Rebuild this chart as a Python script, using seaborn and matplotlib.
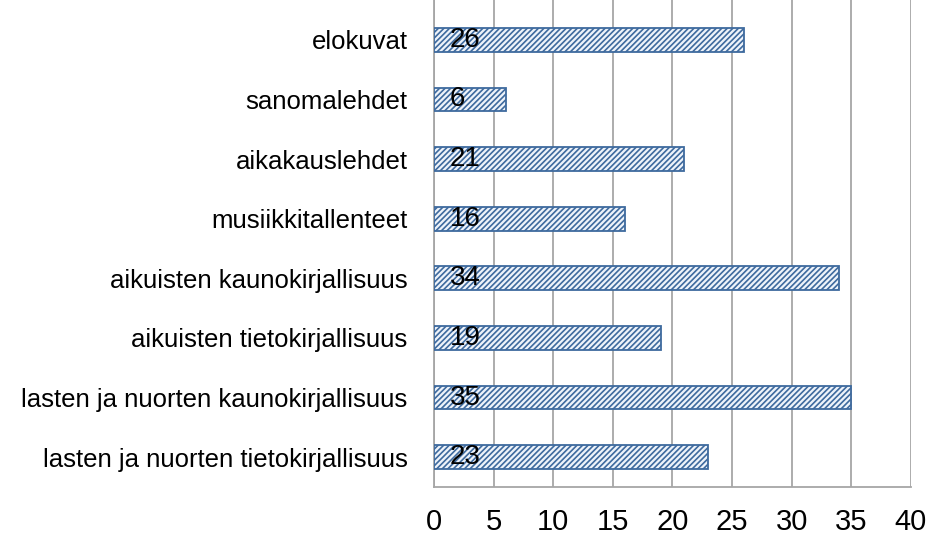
import matplotlib
matplotlib.use("Agg")
import matplotlib.pyplot as plt
import seaborn as sns
import pandas as pd
from matplotlib import font_manager

categories = [
    "elokuvat",
    "sanomalehdet",
    "aikakauslehdet",
    "musiikkitallenteet",
    "aikuisten kaunokirjallisuus",
    "aikuisten tietokirjallisuus",
    "lasten ja nuorten kaunokirjallisuus",
    "lasten ja nuorten tietokirjallisuus",
]
values = [26, 6, 21, 16, 34, 19, 35, 23]

df = pd.DataFrame({"category": categories, "value": values})

sns.set_style("white")
names = {f.name for f in font_manager.fontManager.ttflist}
fam = "Liberation Sans Narrow" if "Liberation Sans Narrow" in names else "Liberation Sans"
plt.rcParams["font.family"] = [fam, "DejaVu Sans"]
plt.rcParams["hatch.linewidth"] = 1.2
plt.rcParams["text.color"] = "black"
plt.rcParams["xtick.labelcolor"] = "black"
plt.rcParams["ytick.labelcolor"] = "black"

fig = plt.figure(figsize=(9.28, 5.38), dpi=100)
# axes run from the very top of the image down to the x axis line
ax = fig.add_axes([434 / 928, 1 - 487 / 538, 477 / 928, 487 / 538])

sns.barplot(data=df, x="value", y="category", orient="h", width=0.4,
            color="white", edgecolor="#3E6A9E", linewidth=1.3, ax=ax, zorder=3)
for p in ax.patches:
    p.set_hatch("//////")
    p.set_facecolor("#EEF3FA")

# value labels sit just inside the left end of each bar
for i, v in enumerate(values):
    ax.text(1.3, i, str(v), va="center", ha="left", fontsize=20, color="black", zorder=4)

ax.set_xlim(0, 40)
ax.set_ylim(len(categories) - 0.5, -0.5 - 10 / 59.6)
ax.set_xticks(range(0, 41, 5))
ax.grid(axis="x", color="#A6A6A6", linewidth=1.3, zorder=0)
ax.set_axisbelow(True)
for s in ["top", "right"]:
    ax.spines[s].set_visible(False)
ax.spines["left"].set_color("#A6A6A6")
ax.spines["left"].set_linewidth(1.3)
ax.spines["bottom"].set_color("#A6A6A6")
ax.spines["bottom"].set_linewidth(1.3)
ax.tick_params(axis="x", length=8, width=1.3, color="#A6A6A6", labelsize=21, pad=7)
ax.tick_params(axis="y", length=0, labelsize=18.5, pad=19)
ax.set_xlabel("")
ax.set_ylabel("")

fig.savefig("out.png", dpi=100)
